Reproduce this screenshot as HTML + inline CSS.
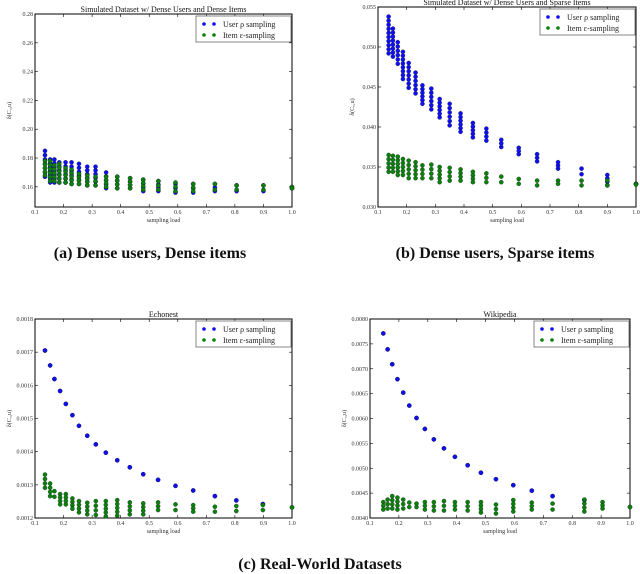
<!DOCTYPE html>
<html><head><meta charset="utf-8">
<style>
html,body{margin:0;padding:0;background:#fff;}
svg{display:block;font-family:"Liberation Serif",serif;}
.tick{font-size:6px;fill:#333;}
.ttl{font-size:8px;fill:#111;}
.cap{font-size:16px;font-weight:bold;fill:#111;}
.leg{font-size:8px;fill:#222;}
</style></head>
<body>
<svg id="fig" width="640" height="574" viewBox="0 0 640 574">
<text class="cap" x="150" y="258" text-anchor="middle">(a) Dense users, Dense items</text>
<text class="cap" x="495" y="258" text-anchor="middle">(b) Dense users, Sparse items</text>
<text class="cap" x="320" y="569" text-anchor="middle">(c) Real-World Datasets</text>
</svg>
<script>
// Panel A data
const xA = [0.135,0.153,0.168,0.185,0.207,0.228,0.254,0.283,0.312,0.349,0.388,0.433,0.479,0.532,0.592,0.654,0.73,0.806,0.9,1.0];
const blueHiA = [0.185,0.179,0.179,0.177,0.177,0.177,0.176,0.174,0.174,0.170,0.167,0.166,0.165,0.164,0.162,0.162,0.162,0.161,0.161,0.159];
const blueLoA = [0.167,0.163,0.163,0.163,0.163,0.162,0.162,0.161,0.161,0.159,0.159,0.159,0.157,0.157,0.156,0.156,0.157,0.157,0.157,0.159];
const greenHiA = [0.178,0.178,0.175,0.176,0.173,0.172,0.169,0.168,0.167,0.167,0.167,0.166,0.165,0.164,0.163,0.162,0.162,0.161,0.161,0.160];
const greenLoA = [0.168,0.164,0.164,0.163,0.163,0.162,0.162,0.161,0.161,0.160,0.159,0.159,0.158,0.158,0.157,0.157,0.158,0.158,0.158,0.159];
const yTicksA = [0.16,0.18,0.20,0.22,0.24,0.26,0.28];
// Panel B data
const xB = [0.137,0.152,0.169,0.187,0.207,0.231,0.255,0.286,0.315,0.35,0.388,0.431,0.478,0.53,0.591,0.655,0.728,0.81,0.9,1.0];
const blueHiB = [0.0538,0.0523,0.0506,0.0494,0.0480,0.0468,0.0452,0.0448,0.0435,0.0429,0.0417,0.0405,0.0398,0.0384,0.0374,0.0366,0.0356,0.0348,0.0340,0.0329];
const blueLoB = [0.0492,0.0488,0.0479,0.0460,0.0449,0.0442,0.0429,0.0422,0.0412,0.0402,0.0394,0.0387,0.0383,0.0375,0.0366,0.0357,0.0348,0.0341,0.0327,0.0329];
const greenHiB = [0.0365,0.0364,0.0363,0.0360,0.0358,0.0356,0.0352,0.0353,0.0350,0.0349,0.0347,0.0344,0.0342,0.0338,0.0335,0.0333,0.0333,0.0333,0.0333,0.0329];
const greenLoB = [0.0344,0.0344,0.0340,0.0340,0.0336,0.0336,0.0336,0.0336,0.0331,0.0333,0.0333,0.0331,0.0331,0.0331,0.0329,0.0327,0.0329,0.0327,0.0327,0.0328];
const yTicksB = [0.030,0.035,0.040,0.045,0.050,0.055];
// Panel C data
const xC = [0.135,0.153,0.168,0.188,0.208,0.231,0.254,0.283,0.313,0.348,0.388,0.432,0.479,0.531,0.592,0.654,0.73,0.805,0.898,1.0];
const blueC = [0.001705,0.00166,0.001619,0.001583,0.001544,0.00151,0.001478,0.001448,0.001422,0.001397,0.001374,0.001353,0.001332,0.001315,0.001297,0.001283,0.001266,0.001253,0.001242,null];
const greenHiC = [0.001331,0.001304,0.001281,0.001272,0.001272,0.001259,0.001251,0.001246,0.001251,0.001251,0.001254,0.001247,0.001244,0.001247,0.001241,0.001239,0.001234,0.001236,0.001239,0.001232];
const greenLoC = [0.001291,0.001266,0.001264,0.001241,0.001241,0.001228,0.001217,0.001211,0.001209,0.001205,0.001207,0.001211,0.001211,0.001224,0.001224,0.001219,0.001219,0.001221,0.001224,0.001232];
const yTicksC = [0.0012,0.0013,0.0014,0.0015,0.0016,0.0017,0.0018];
// Panel D data
const xD = [0.146,0.161,0.177,0.195,0.215,0.236,0.261,0.29,0.321,0.356,0.394,0.438,0.484,0.536,0.596,0.66,0.732,0.842,0.905,1.0];
const blueD = [0.00771,0.00739,0.00709,0.00679,0.00652,0.00626,0.00601,0.00579,0.00558,0.0054,0.00523,0.00506,0.00491,0.00478,0.00466,0.00455,0.00444,0.00436,null,null];
const greenHiD = [0.00432,0.00437,0.00444,0.00441,0.00437,0.00431,0.00429,0.00432,0.00432,0.00434,0.00432,0.00432,0.00432,0.00427,0.00436,0.00431,0.00429,0.00437,0.00432,0.00422];
const greenLoD = [0.00417,0.00419,0.00419,0.00417,0.00419,0.00422,0.00422,0.00417,0.00415,0.00415,0.00417,0.00415,0.00411,0.00409,0.00413,0.00417,0.00417,0.00413,0.00419,0.00422];
const yTicksD = [0.0040,0.0045,0.0050,0.0055,0.0060,0.0065,0.0070,0.0075,0.0080];
const xTicks = [0.1,0.2,0.3,0.4,0.5,0.6,0.7,0.8,0.9,1.0];

const NS = "http://www.w3.org/2000/svg";
const svg = document.getElementById('fig');
function mk(tag, attrs, parent){
  const e = document.createElementNS(NS, tag);
  for (const k in attrs) e.setAttribute(k, attrs[k]);
  (parent||svg).appendChild(e);
  return e;
}
function panel(id, box, ymin, ymax, yTicks, dec, title, xs, bHi, bLo, gHi, gLo){
  const g = mk('g', {});
  
  
  const sx = v => box.l + (v - 0.1) / 0.9 * (box.r - box.l);
  const sy = v => box.b - (v - ymin) / (ymax - ymin) * (box.b - box.t);
  const frame = mk('rect', {x:box.l, y:box.t, width:box.r-box.l, height:box.b-box.t, fill:'none', stroke:'#000', 'stroke-width':1}, g);
  
  
  xTicks.forEach(v => {
    const x = sx(v);
    mk('line', {x1:x, x2:x, y1:box.b, y2:box.b-3, stroke:'#000','stroke-width':0.6}, g);
    mk('line', {x1:x, x2:x, y1:box.t, y2:box.t+3, stroke:'#000','stroke-width':0.6}, g);
    const t = mk('text', {x:x, y:box.b+7, class:'tick','text-anchor':'middle'}, g);
    t.textContent = v.toFixed(1);
    
    
  });
  yTicks.forEach(v => {
    const y = sy(v);
    mk('line', {x1:box.l, x2:box.l+3, y1:y, y2:y, stroke:'#000','stroke-width':0.6}, g);
    mk('line', {x1:box.r, x2:box.r-3, y1:y, y2:y, stroke:'#000','stroke-width':0.6}, g);
    const t = mk('text', {x:box.l-2, y:y+2, class:'tick','text-anchor':'end'}, g);
    t.textContent = v.toFixed(dec);
    
    
  });
  const tt = mk('text', {x:(box.l+box.r)/2, y:box.t-2, class:'ttl','text-anchor':'middle'}, g);
  tt.textContent = title;
  
  
  const xl = mk('text', {x:(box.l+box.r)/2, y:box.b+15, class:'tick','text-anchor':'middle'}, g);
  xl.textContent = 'sampling load';
  
  
  const yl = mk('text', {x:0, y:0, class:'tick','text-anchor':'middle', transform:`translate(${box.l-24},${(box.t+box.b)/2}) rotate(-90)`}, g);
  yl.textContent = 'δ(C\u1d64,u)';
  
  
  function series(hi, lo, color, name){
    xs.forEach((xv, i) => {
      if (hi[i] == null) return;
      const x = sx(xv), y1 = sy(hi[i]), y2 = sy(lo ? lo[i] : hi[i]);
      const span = Math.abs(y2 - y1);
      const n = Math.max(1, Math.round(span / 4));
      for (let k = 0; k <= n; k++){
        const y = y1 + (y2 - y1) * k / n;
        const c = mk('circle', {cx:x, cy:y, r:2.1, fill:color, stroke:'#112', 'stroke-width':0.3}, g);
        
        
      }
    });
  }
  series(bHi, bLo, '#0f0ff5', 'user-sampling');
  series(gHi, gLo, '#0a820a', 'item-sampling');
  // legend
  const lw = 95, lh = 26, lx = box.r - lw - 1, ly = box.t + 2;
  const lg = mk('g', {}, g);
  
  
  mk('rect', {x:lx, y:ly, width:lw, height:lh, fill:'#fff', stroke:'#555', 'stroke-width':0.7}, lg);
  [['#0f0ff5','User ρ sampling'],['#0a820a','Item ε-sampling']].forEach((e, k) => {
    const yy = ly + 8 + k*11;
    mk('circle', {cx:lx+8, cy:yy, r:1.8, fill:e[0]}, lg);
    mk('circle', {cx:lx+18, cy:yy, r:1.8, fill:e[0]}, lg);
    const t = mk('text', {x:lx+27, y:yy+3, class:'leg'}, lg);
    t.textContent = e[1];
    
    
  });
}
panel('chart-dense-dense', {l:35,r:292,t:14,b:207}, 0.146, 0.28, yTicksA, 2, 'Simulated Dataset w/ Dense Users and Dense Items', xA, blueHiA, blueLoA, greenHiA, greenLoA);
panel('chart-dense-sparse', {l:378,r:636,t:7,b:207}, 0.030, 0.055, yTicksB, 3, 'Simulated Dataset w/ Dense Users and Sparse Items', xB, blueHiB, blueLoB, greenHiB, greenLoB);
panel('chart-echonest', {l:35,r:292,t:319,b:518}, 0.0012, 0.0018, yTicksC, 4, 'Echonest', xC, blueC, null, greenHiC, greenLoC);
panel('chart-wikipedia', {l:370,r:630,t:319,b:518}, 0.0040, 0.0080, yTicksD, 4, 'Wikipedia', xD, blueD, null, greenHiD, greenLoD);
</script>
</body></html>
